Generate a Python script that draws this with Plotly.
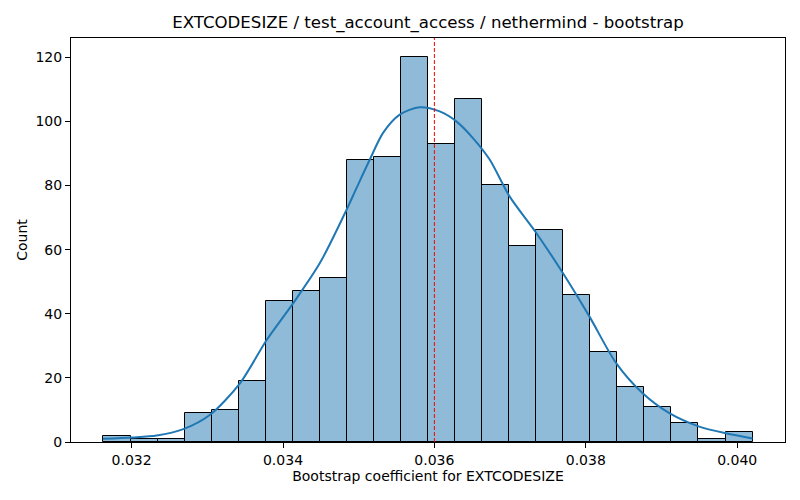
import numpy as np
import plotly.graph_objects as go

# histogram of bootstrap coefficients (1000 resamples, 24 bins)
data_min = 0.031628
data_max = 0.040203
counts = [2, 1, 1, 9, 10, 19, 44, 47, 51, 88, 89, 120,
          93, 107, 80, 61, 66, 46, 28, 17, 11, 6, 1, 3]

# kde curve
kde_x = [0.03162, 0.032011, 0.032332, 0.032683, 0.033036, 0.033431, 0.033784,
         0.034135, 0.034487, 0.034839, 0.034971, 0.035147, 0.035322, 0.035542,
         0.035806, 0.03607, 0.03629, 0.036509, 0.03673, 0.036993, 0.037346,
         0.037697, 0.038049, 0.038401, 0.038752, 0.039104, 0.039499, 0.039852,
         0.040203]
kde_y = [1.0, 1.4, 2.0, 4.0, 8.5, 18.3, 31.8,
         43.3, 55.8, 72.4, 79.2, 88.1, 96.4, 102.1,
         104.4, 103.1, 100.0, 94.8, 88.1, 76.6, 65.2,
         52.7, 39.1, 24.6, 15.2, 9.0, 4.8, 2.7,
         1.1]

estimate = 0.0360
title = "EXTCODESIZE / test_account_access / nethermind - bootstrap"

edges = np.linspace(data_min, data_max, len(counts) + 1)
centers = (edges[:-1] + edges[1:]) / 2
width = edges[1] - edges[0]

fig = go.Figure()
fig.add_trace(go.Bar(x=centers, y=counts, width=width,
                     marker=dict(color="rgba(31,119,180,0.5)",
                                 line=dict(color="black", width=1)),
                     hoverinfo="x+y", showlegend=False))
fig.add_trace(go.Scatter(x=kde_x, y=kde_y, mode="lines", line_shape="spline",
                         line=dict(color="#1f77b4", width=2, smoothing=0.8),
                         showlegend=False))

fig.add_shape(type="line", x0=estimate, x1=estimate, y0=0, y1=1,
              xref="x", yref="paper",
              line=dict(color="red", width=1, dash="4px,2px"))

pad = (data_max - data_min) * 0.05
axis_style = dict(showline=True, linecolor="black", linewidth=1, mirror=True,
                  ticks="outside", ticklen=5, tickcolor="black", showgrid=False,
                  zeroline=False, automargin=False,
                  tickfont=dict(size=14, color="black"))

# page body adds an 8px offset, so the figure is a little smaller than the window
fig.update_layout(
    width=792, height=492,
    margin=dict(l=63, r=15, t=30, b=58),
    paper_bgcolor="white", plot_bgcolor="white",
    font=dict(family="DejaVu Sans", color="black"),
    title=dict(text=title, xref="paper", x=0.5, xanchor="center",
               y=0.972, yanchor="middle", font=dict(size=16.6)),
    bargap=0,
    xaxis=dict(range=[data_min - pad, data_max + pad], tickvals=[0.032, 0.034, 0.036, 0.038, 0.040],
               tickformat=".3f",
               title=dict(text="Bootstrap coefficient for EXTCODESIZE", font=dict(size=14), standoff=4),
               **axis_style),
    yaxis=dict(range=[0, 126], tickvals=[0, 20, 40, 60, 80, 100, 120],
               title=dict(text="Count", font=dict(size=14), standoff=4),
               **axis_style),
)

fig.write_html("out.html")
